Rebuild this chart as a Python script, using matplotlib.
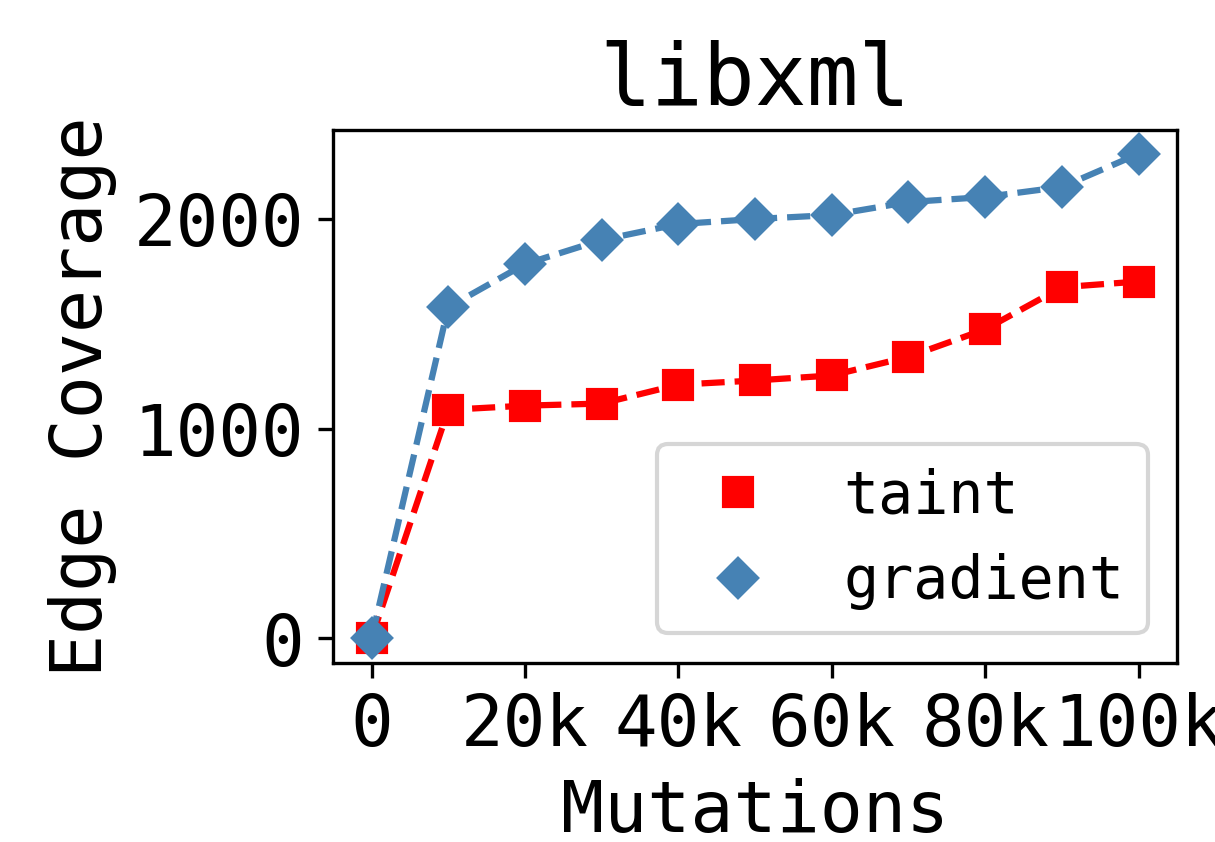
import matplotlib
matplotlib.use("Agg")
import matplotlib.pyplot as plt
from matplotlib.ticker import FuncFormatter

plt.rcParams['font.family'] = ['DejaVu Sans Mono']

mutations = [0, 10000, 20000, 30000, 40000, 50000, 60000, 70000, 80000, 90000, 100000]
taint = [0, 1090, 1110, 1120, 1210, 1230, 1254, 1343, 1474, 1675, 1702]
gradient = [0, 1579, 1785, 1900, 1976, 2000, 2019, 2081, 2105, 2153, 2311]

fig, ax = plt.subplots(figsize=(4.053, 2.807), dpi=300)
ax.plot(mutations, taint, color='red', linestyle='--', linewidth=1.5)
ax.plot(mutations, gradient, color='steelblue', linestyle='--', linewidth=1.5)
ax.plot(mutations, taint, color='red', linestyle='none', marker='s', markersize=6.5, label='taint')
ax.plot(mutations, gradient, color='steelblue', linestyle='none', marker='D', markersize=6.3, label='gradient')

ax.set_xticks([0, 20000, 40000, 60000, 80000, 100000])
ax.xaxis.set_major_formatter(FuncFormatter(lambda v, p: '0' if v == 0 else f'{int(v/1000)}k'))
ax.set_yticks([0, 1000, 2000])
ax.tick_params(labelsize=17)
ax.set_title('libxml', fontsize=20.7)
ax.set_xlabel('Mutations', fontsize=17.2)
ax.set_ylabel('Edge Coverage', fontsize=17.2)
ax.legend(loc='lower right', fontsize=14, handletextpad=0.8)
fig.subplots_adjust(left=0.274, right=0.968, top=0.846, bottom=0.213)
fig.savefig('out.png', dpi=300)
